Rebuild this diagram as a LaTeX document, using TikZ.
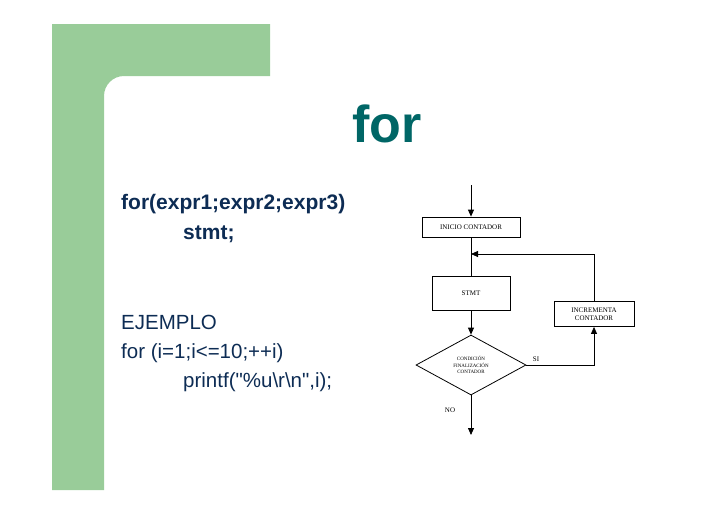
\documentclass[tikz,border=0pt]{standalone}
\usepackage{fontspec}
\setmainfont{Liberation Serif}
\setsansfont{Liberation Sans}
\usepackage{tikz}
\usetikzlibrary{arrows.meta,shapes.geometric}
\definecolor{barGreen}{HTML}{99CC99}
\definecolor{titleTeal}{HTML}{006666}
\definecolor{codeNavy}{HTML}{0D2C54}

\begin{document}
\begin{tikzpicture}[
  x=1pt, y=-1pt,
  box/.style={draw, thick, inner sep=0pt, font=\fontsize{7}{8}\selectfont, align=center},
  cond/.style={diamond, draw, thick, inner sep=0pt, minimum width=110pt, minimum height=60pt,
    font=\fontsize{5}{6.5}\selectfont, align=center},
  flow/.style={thick, -{Triangle[length=7pt,width=6pt]}},
  code/.style={anchor=base west, font=\sffamily\fontsize{20.5}{24}\selectfont, text=codeNavy, inner sep=0pt},
  lab/.style={font=\fontsize{7}{8}\selectfont},
]
  \useasboundingbox (0,0) rectangle (728,515);

  % Green frame
  \fill[barGreen] (52,24) -- (270,24) -- (270,76) [rounded corners=20pt]-- (104,76)
    [sharp corners]-- (104,490) -- (52,490) -- cycle;

  % Title
  \node[font=\sffamily\bfseries\fontsize{52}{58}\selectfont, text=titleTeal] (title) at (387,124) {for};

  % Syntax and example
  \node[code, font=\sffamily\bfseries\fontsize{21}{24}\selectfont] (syn) at (121,209) {for(expr1;expr2;expr3)};
  \node[code, font=\sffamily\bfseries\fontsize{21}{24}\selectfont] (body) at (183,239) {stmt;};
  \node[code] (ej) at (121,329) {EJEMPLO};
  \node[code] (ejfor) at (121,358) {for (i=1;i<=10;++i)};
  \node[code] (ejbody) at (183,387) {printf(\textquotedbl\%u\textbackslash r\textbackslash n\textquotedbl,i);};

  % Flowchart nodes
  \coordinate (start) at (471,185);
  \node[box, minimum width=98pt, minimum height=20pt] (inicio) at (471,227) {INICIO CONTADOR};
  \coordinate (join) at (471,254);
  \node[box, minimum width=78pt, minimum height=34pt] (stmt) at (471,293) {STMT};
  \node[cond] (test) at (471,365) {CONDICIÓN\\FINALIZACIÓN\\CONTADOR};
  \node[box, minimum width=80pt, minimum height=25pt] (incr) at (594,314) {INCREMENTA\\CONTADOR};
  \coordinate (finish) at (471,435);

  % Connectors
  \draw[flow] (start) -- (inicio.north);
  \draw[thick] (inicio.south) -- (stmt.north);
  \draw[flow] (stmt.south) -- (test.north);
  \draw[flow] (test.east) -| (incr.south);
  \draw[flow] (incr.north) |- (join);
  \draw[flow] (test.south) -- (finish);

  % Branch labels
  \node[lab] (si) at (536,359) {SI};
  \node[lab] (no) at (450,410) {NO};
\end{tikzpicture}
\end{document}
